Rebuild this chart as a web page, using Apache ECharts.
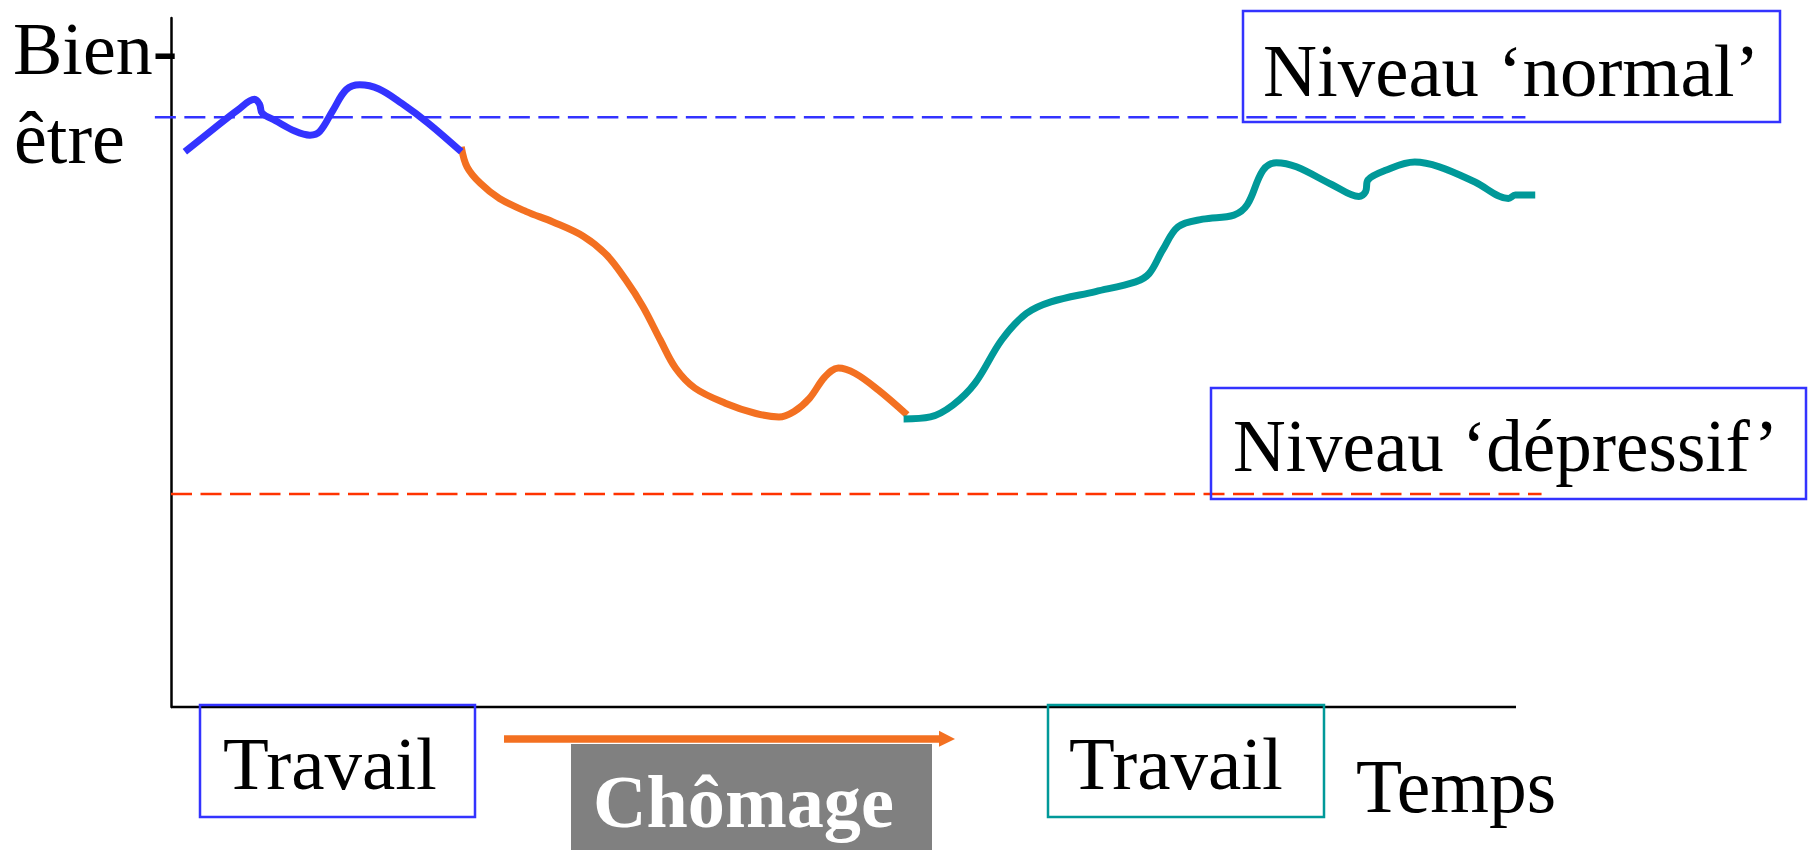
<!DOCTYPE html>
<html><head><meta charset="utf-8">
<script src="https://cdn.jsdelivr.net/npm/echarts/dist/echarts.min.js"></script>
<style>html,body{margin:0;padding:0;background:#fff}#c{width:1809px;height:850px}</style>
</head><body><div id="c"></div>
<script>
// Time (0-100) / well-being (0-100)
const travailAvant = [[1.03,80.6],[3.22,84.0],[4.93,86.6],[6.21,88.2],[6.58,87.5],[6.78,86.2],[7.77,85.1],[9.20,83.6],[10.33,83.0],[11.05,83.5],[12.04,86.6],[13.03,89.6],[14.03,90.3],[15.46,89.7],[17.16,87.6],[19.15,84.7],[21.58,80.6]];
const chomage = [[21.58,81.3],[22.01,78.4],[23.00,76.0],[24.42,73.8],[26.42,71.9],[28.40,70.4],[30.68,68.3],[32.39,65.6],[33.81,62.0],[35.09,58.1],[36.37,53.3],[37.51,49.2],[38.94,46.3],[41.21,44.1],[43.49,42.6],[45.20,42.1],[46.33,42.9],[47.47,44.8],[48.61,47.9],[49.61,49.2],[50.88,48.4],[52.59,46.0],[54.73,42.4]];
const travailApres = [[54.47,41.8],[56.46,42.1],[58.12,43.8],[59.78,47.0],[61.77,53.3],[63.59,57.1],[65.42,58.8],[68.74,60.3],[71.72,61.7],[72.72,62.9],[73.72,66.3],[74.88,69.7],[76.71,70.8],[79.03,71.4],[80.02,72.9],[81.19,77.9],[82.18,79.0],[83.67,78.4],[86.33,75.8],[88.32,74.1],[88.82,74.8],[88.99,76.5],[90.31,77.9],[92.47,79.1],[94.30,78.4],[96.95,76.2],[99.44,73.8],[99.94,74.3],[101.43,74.3]];
const niveauNormal = 85.6;
const niveauDepressif = 30.9;
const normalSpan = [-1.2, 100.7];
const depressifSpan = [0, 101.9];
const timeAxisSpan = [0, 100];
const labels = {
  yTitle1: 'Bien-', yTitle2: 'être', xTitle: 'Temps',
  normal: 'Niveau \u2018normal\u2019', depressif: 'Niveau \u2018dépressif\u2019',
  travail: 'Travail', chomage: 'Chômage'
};

const BLUE = '#3333FF', ORANGE = '#F37021', TEAL = '#009999', RED = '#FF3300';
const FAM = '"Liberation Serif", "Times New Roman", serif';
const F = s => s + 'px ' + FAM;
const FB = s => 'bold ' + s + 'px ' + FAM;

function txt(t, x, y, font, fill) {
  return {type:'text', x:x, y:y, z:10, style:{text:t, font:font, fill:fill||'#000', textAlign:'left', textVerticalAlign:'middle', align:'left', verticalAlign:'middle'}};
}
function box(x, y, w, h, stroke, fill) {
  return {type:'rect', z:5, shape:{x:x,y:y,width:w,height:h}, style:{fill:fill||'none', stroke:stroke||null, lineWidth:stroke?2.5:0}};
}

const chart = echarts.init(document.getElementById('c'), null, {renderer:'svg'});
chart.setOption({
  animation:false,
  backgroundColor:'#fff',
  grid:{left:154.86, right:266.1, top:18, bottom:143, containLabel:false},
  xAxis:{type:'value', min:-1.2, max:102, axisLine:{show:false}, axisTick:{show:false}, axisLabel:{show:false}, splitLine:{show:false}},
  yAxis:{type:'value', min:0, max:100, axisLine:{show:true, onZero:true, lineStyle:{color:'#000', width:2.5}}, axisTick:{show:false}, axisLabel:{show:false}, splitLine:{show:false}},
  series:[
    {type:'line', clip:false, symbol:'none', silent:true, data:timeAxisSpan.map(x=>[x,0]), lineStyle:{color:'#000', width:2.5, cap:'butt'}},
    {type:'line', clip:false, symbol:'none', silent:true, data:normalSpan.map(x=>[x,niveauNormal]), lineStyle:{color:BLUE, width:2.5, type:[21,8.5]}},
    {type:'line', clip:false, symbol:'none', silent:true, data:depressifSpan.map(x=>[x,niveauDepressif]), lineStyle:{color:RED, width:2.5, type:[21,8.5]}},
    {type:'line', clip:false, symbol:'none', silent:true, smooth:0.35, data:chomage, lineStyle:{color:ORANGE, width:7, cap:'butt'}},
    {type:'line', clip:false, symbol:'none', silent:true, smooth:0.35, data:travailAvant, lineStyle:{color:BLUE, width:7, cap:'butt'}},
    {type:'line', clip:false, symbol:'none', silent:true, smooth:0.35, data:travailApres, lineStyle:{color:TEAL, width:7, cap:'butt'}}
  ],
  graphic:[
    txt(labels.yTitle1, 13, 49.4, F(74)),
    txt(labels.yTitle2, 14, 138.4, F(74)),
    box(1243, 11, 537, 111, BLUE),
    txt(labels.normal, 1263, 70.4, F(74.8)),
    box(1211, 388, 595, 111, BLUE),
    txt(labels.depressif, 1233, 446.4, F(73)),
    box(200, 705, 275, 112, BLUE),
    txt(labels.travail, 223, 763.4, F(75)),
    box(1048, 705, 276, 112, TEAL),
    txt(labels.travail, 1069, 763.4, F(75)),
    txt(labels.xTitle, 1356, 786, F(75.5)),
    box(571, 744, 361, 110, null, '#808080'),
    txt(labels.chomage, 593, 802, FB(74.2), '#fff'),
    {type:'line', z:6, shape:{x1:504, y1:739, x2:941, y2:739}, style:{stroke:ORANGE, lineWidth:7.5}},
    {type:'polygon', z:6, shape:{points:[[939,730.7],[955,739],[939,746.7]]}, style:{fill:ORANGE}}
  ]
});
</script>
</body></html>
